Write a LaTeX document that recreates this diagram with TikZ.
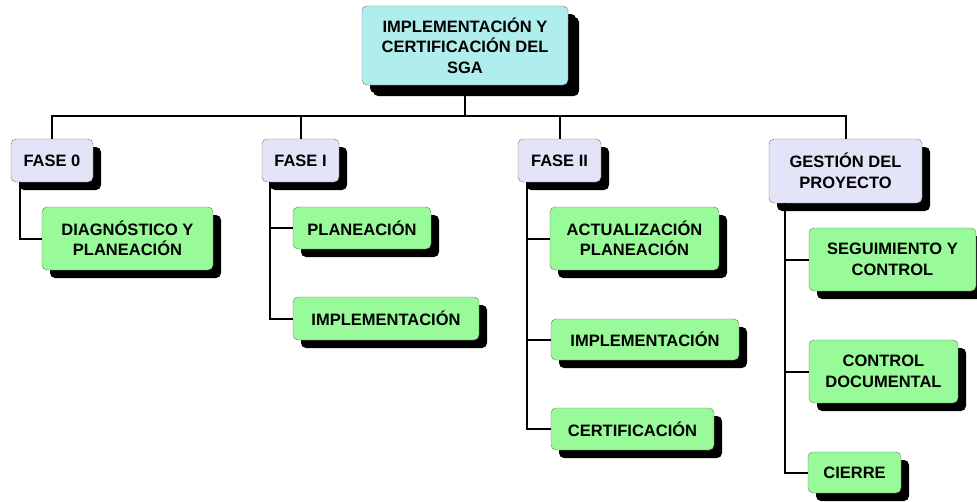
\documentclass[tikz,border=0pt]{standalone}
\usepackage{fontspec}
\setmainfont{Liberation Sans}
\usetikzlibrary{shadows}
\definecolor{cajaraiz}{RGB}{176,238,238}
\definecolor{cajafase}{RGB}{228,228,248}
\definecolor{cajatarea}{RGB}{152,250,152}
\begin{document}
\begin{tikzpicture}[x=1pt, y=-1pt,
    caja/.style={draw=black!55, rounded corners=5pt, align=center, inner sep=0pt,
      font=\fontsize{16.5}{20.5}\selectfont\bfseries,
      drop shadow={shadow xshift=8pt, shadow yshift=-8pt, fill=black, opacity=1}},
    raiz/.style={caja, fill=cajaraiz,
      drop shadow={shadow xshift=11pt, shadow yshift=-11pt, fill=black, opacity=1}},
    fase/.style={caja, fill=cajafase},
    tarea/.style={caja, fill=cajatarea},
    enlace/.style={line width=2pt}]
  \useasboundingbox (0,0) rectangle (977,501);

  % Caja principal
  \node[raiz, minimum width=206pt, minimum height=79pt] (sga) at (465,45.5)
    {IMPLEMENTACIÓN Y\\CERTIFICACIÓN DEL\\SGA};

  % Fases
  \node[fase, minimum width=82pt, minimum height=43pt] (f0) at (52,160.5) {FASE 0};
  \node[fase, minimum width=77pt, minimum height=43pt] (f1) at (300.5,160.5) {FASE I};
  \node[fase, minimum width=83pt, minimum height=43pt] (f2) at (559.5,160.5) {FASE II};
  \node[fase, minimum width=153pt, minimum height=64pt] (gp) at (845.5,171) {GESTIÓN DEL\\PROYECTO};

  % Tareas de la fase 0
  \node[tarea, minimum width=171pt, minimum height=63pt] (t01) at (127.5,238.5) {DIAGNÓSTICO Y\\PLANEACIÓN};

  % Tareas de la fase I
  \node[tarea, minimum width=138pt, minimum height=42pt] (t11) at (362,228) {PLANEACIÓN};
  \node[tarea, minimum width=186pt, minimum height=43pt] (t12) at (386,318.5) {IMPLEMENTACIÓN};

  % Tareas de la fase II
  \node[tarea, minimum width=169pt, minimum height=63pt] (t21) at (634.5,238.5) {ACTUALIZACIÓN\\PLANEACIÓN};
  \node[tarea, minimum width=188pt, minimum height=41pt] (t22) at (645,339.5) {IMPLEMENTACIÓN};
  \node[tarea, minimum width=163pt, minimum height=42pt] (t23) at (632.5,429) {CERTIFICACIÓN};

  % Tareas de gestión del proyecto
  \node[tarea, minimum width=167pt, minimum height=63pt] (g1) at (892.5,259.5) {SEGUIMIENTO Y\\CONTROL};
  \node[tarea, minimum width=149pt, minimum height=63pt] (g2) at (883.5,371.5) {CONTROL\\DOCUMENTAL};
  \node[tarea, minimum width=93pt, minimum height=41pt] (g3) at (854.5,472.5) {CIERRE};

  % Barra horizontal
  \coordinate (barra) at (465,116);

  % Conexiones
  \draw[enlace] ([yshift=-11pt]sga.south) -- (barra);
  \draw[enlace] (f0.north) |- (barra) -| (gp.north);
  \draw[enlace] (f1.north) -- (f1.north |- barra);
  \draw[enlace] (f2.north) -- (f2.north |- barra);

  \draw[enlace] ([xshift=9pt]f0.south west) |- (t01.west);

  \draw[enlace] ([xshift=8pt]f1.south west) |- (t11.west);
  \draw[enlace] ([xshift=8pt]f1.south west) |- (t12.west);

  \draw[enlace] ([xshift=9pt]f2.south west) |- (t21.west);
  \draw[enlace] ([xshift=9pt]f2.south west) |- (t22.west);
  \draw[enlace] ([xshift=9pt]f2.south west) |- (t23.west);

  \draw[enlace] ([xshift=16pt]gp.south west) |- (g1.west);
  \draw[enlace] ([xshift=16pt]gp.south west) |- (g2.west);
  \draw[enlace] ([xshift=16pt]gp.south west) |- (g3.west);
\end{tikzpicture}
\end{document}
